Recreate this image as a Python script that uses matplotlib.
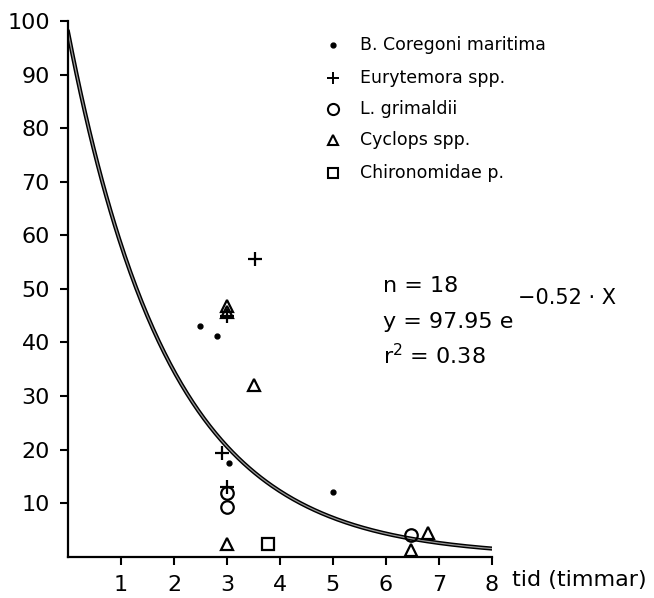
import numpy as np
import matplotlib
matplotlib.use("Agg")
import matplotlib.pyplot as plt

# data
dots_x = [2.5, 2.82, 3.03, 5.0]
dots_y = [43, 41.2, 17.5, 12.1]
plus_x = [3.53, 3.0, 2.91, 3.0]
plus_y = [55.6, 45, 19.4, 13]
circ_x = [3.0, 3.0, 6.48]
circ_y = [11.9, 9.3, 4.1]
tri_x = [3.0, 3.0, 3.52, 3.0, 6.48, 6.79]
tri_y = [46.8, 45.6, 32, 2.3, 1.3, 4.4]
sq_x = [3.78]
sq_y = [2.3]

fit_a = 97.95
fit_b = 0.52

legend_labels = ["B. Coregoni maritima", "Eurytemora spp.", "L. grimaldii",
                 "Cyclops spp.", "Chironomidae p."]

fig = plt.figure(figsize=(6.54, 5.98), dpi=100)
ax = fig.add_axes([0.104, 0.069, 0.648, 0.896])

xs = np.linspace(0, 8, 300)
ax.plot(xs, fit_a * np.exp(-fit_b * xs), color="black", lw=3.0, zorder=2)
ax.plot(xs, fit_a * np.exp(-fit_b * xs), color="#999999", lw=0.9, zorder=2)

ax.plot(dots_x, dots_y, "o", ms=3.5, mfc="black", mec="black", ls="none", zorder=3)
ax.plot(plus_x, plus_y, "+", ms=10, mew=1.6, color="black", ls="none", zorder=3)
ax.plot(circ_x, circ_y, "o", ms=9, mfc="none", mec="black", mew=1.6, ls="none", zorder=3)
ax.plot(tri_x, tri_y, "^", ms=9, mfc="none", mec="black", mew=1.6, ls="none", zorder=3)
ax.plot(sq_x, sq_y, "s", ms=9, mfc="none", mec="black", mew=1.6, ls="none", zorder=3)

ax.set_xlim(0, 8)
ax.set_ylim(0, 100)
ax.set_xticks(range(1, 9))
ax.set_yticks(range(10, 101, 10))
ax.tick_params(axis="both", direction="out", length=6, width=1.5, labelsize=16, pad=7)
ax.spines["top"].set_visible(False)
ax.spines["right"].set_visible(False)
ax.spines["left"].set_linewidth(1.6)
ax.spines["bottom"].set_linewidth(1.6)
ax.spines["bottom"].set_bounds(0, 8)

fig.text(0.783, 0.030, "tid (timmar)", fontsize=16, ha="left", va="center")

# legend (manual)
leg_y = [0.924, 0.870, 0.817, 0.766, 0.711]
leg_specs = [dict(marker="o", ms=3.5, mfc="black"),
             dict(marker="+", ms=9, mew=1.4),
             dict(marker="o", ms=8, mfc="none", mew=1.5),
             dict(marker="^", ms=7, mfc="none", mew=1.5),
             dict(marker="s", ms=7, mfc="none", mew=1.5)]
for yy, lab, spec in zip(leg_y, legend_labels, leg_specs):
    fig.lines.append(matplotlib.lines.Line2D([0.509], [yy], color="black", ls="none",
                                             transform=fig.transFigure, **spec))
    fig.text(0.550, yy, lab, fontsize=12.5, ha="left", va="center")

fig.text(0.586, 0.522, "n = 18", fontsize=16, ha="left", va="center")
fig.text(0.586, 0.462, "y = 97.95 e", fontsize=16, ha="left", va="center")
fig.text(0.792, 0.502, "\u22120.52 \u00b7 X", fontsize=15, ha="left", va="center")
fig.text(0.586, 0.405, "r$^{2}$ = 0.38", fontsize=16, ha="left", va="center")

fig.savefig("out.png", dpi=100)
